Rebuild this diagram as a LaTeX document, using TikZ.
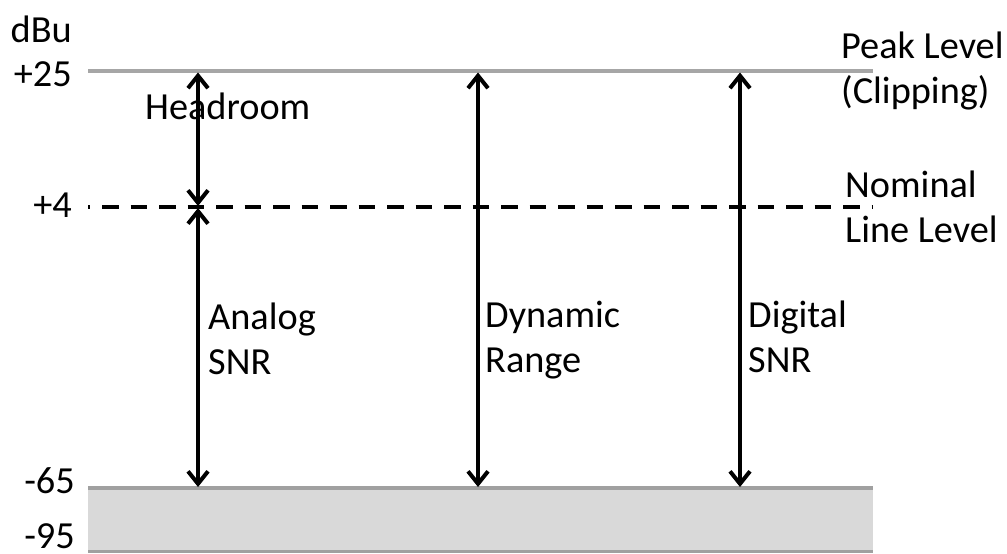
\documentclass[tikz,border=0pt]{standalone}
\usepackage{fontspec}
\setmainfont{Carlito}
\usetikzlibrary{arrows.meta}
\definecolor{levelgray}{RGB}{166,166,166}
\definecolor{floorfill}{RGB}{217,217,217}
\definecolor{floorline}{RGB}{160,160,160}
\begin{document}
\begin{tikzpicture}[x=1bp,y=-1bp,
  txt/.style={inner sep=0pt,font=\fontsize{38.3bp}{45.5bp}\selectfont},
  axislabel/.style={txt,anchor=base east},
  sidelabel/.style={txt,anchor=base west,align=left},
  levelline/.style={draw=levelgray,line width=3.3bp},
  nominalline/.style={draw=black,line width=4bp,dash pattern=on 16.5bp off 12bp,dash phase=14.5bp},
  span/.style={draw=black,line width=4bp,{Straight Barb[length=12.5bp,width=20bp]}-{Straight Barb[length=12.5bp,width=20bp]}}]
\useasboundingbox (0,0) rectangle (1007,554);

% noise floor band
\fill[floorfill] (88,488) rectangle (873,552);
\draw[floorline,line width=3.3bp] (88,488) -- (873,488);
\draw[floorline,line width=3.3bp] (88,551.5) -- (873,551.5);

% reference levels
\coordinate (peakL) at (88,71);
\coordinate (peakR) at (873,71);
\coordinate (nomL) at (88,207);
\coordinate (nomR) at (873,207);
\draw[levelline] (peakL) -- (peakR);
\draw[nominalline] (nomL) -- (nomR);

% scale labels
\node[axislabel] (dbu) at (72,43) {dBu};
\node[axislabel] (p25) at (72,87) {+25};
\node[axislabel] (p4) at (72,218) {+4};
\node[axislabel] (m65) at (75,493) {-65};
\node[axislabel] (m95) at (75,548) {-95};

% level names (anchored at the baseline of the last line)
\node[sidelabel] (peak) at (841,104) {Peak Level\\(Clipping)};
\node[sidelabel] (nominal) at (845,243) {Nominal\\Line Level};

% span end points
\coordinate (hTop) at (198,72.5);
\coordinate (hBot) at (198,206);
\coordinate (aTop) at (198,208);
\coordinate (aBot) at (198,487);
\coordinate (dTop) at (478,72.5);
\coordinate (dBot) at (478,487);
\coordinate (gTop) at (740,72.5);
\coordinate (gBot) at (740,487);

\draw[span] (hTop) -- (hBot);
\draw[span] (aTop) -- (aBot);
\draw[span] (dTop) -- (dBot);
\draw[span] (gTop) -- (gBot);

% span names
\node[sidelabel] (headroom) at (145,120) {Headroom};
\node[sidelabel] (analog) at (208,375) {Analog\\SNR};
\node[sidelabel] (dynamic) at (485,373) {Dynamic\\Range};
\node[sidelabel] (digital) at (748,373) {Digital\\SNR};
\end{tikzpicture}
\end{document}
